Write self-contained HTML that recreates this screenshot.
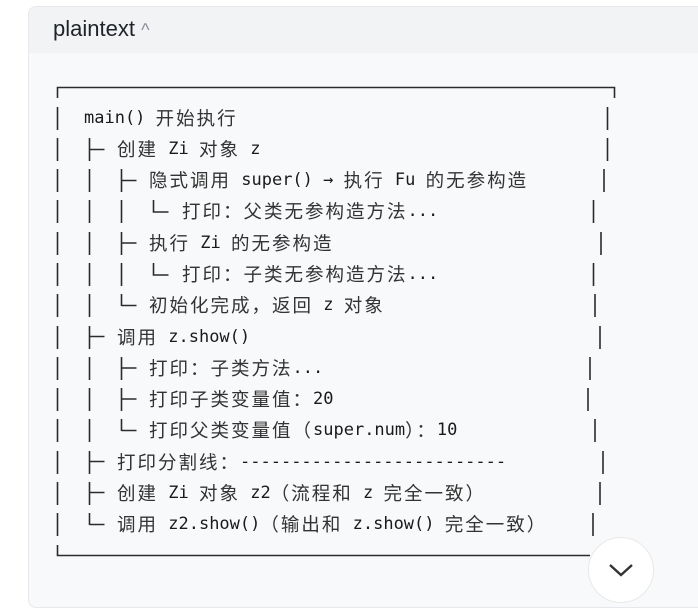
<!DOCTYPE html>
<html><head><meta charset="utf-8"><style>
body{margin:0;width:698px;height:587px;background:#fff;overflow:hidden;position:relative;font-family:"Liberation Sans","Noto Sans CJK SC",sans-serif;}
.card{position:absolute;left:28px;top:6px;width:700px;height:600px;border:1px solid #e6e8eb;border-radius:8px;background:#f8f9fa;overflow:hidden}
.hd{position:absolute;left:0;top:0;right:0;height:46px;background:#f2f3f5}
.ttl{position:absolute;left:24px;top:9px;font-size:22px;color:#1f2329;font-family:"Liberation Sans","Noto Sans CJK SC",sans-serif}
.t{position:absolute;font-family:"DejaVu Sans Mono","Noto Sans CJK SC",monospace;font-size:17px;line-height:24px;height:24px;color:#1a1a1a;white-space:pre}
.t i{font-style:normal;font-family:"Noto Sans CJK SC",sans-serif;font-size:18.5px;line-height:24px;letter-spacing:2px;color:#333;vertical-align:top}
svg{position:absolute;left:0;top:0}
.circ{position:absolute;left:588px;top:537px;width:64px;height:64px;border-radius:50%;background:#fff;border:1px solid #e8e8e8}
</style></head><body>
<div class="card"><div class="hd"></div><div class="ttl">plaintext <span style="color:#8a8f99;font-size:18px">^</span></div></div>
<svg width="698" height="587" stroke="#2b2b2b" stroke-width="1.6" fill="none">
<path d="M57.5 98V87.5H614.5V98"/>
<path d="M57.5 545V555.5H590"/>
<path d="M57.5 107v23M57.5 138v23M57.5 169v23M57.5 200v23M57.5 232v23M57.5 263v23M57.5 294v23M57.5 326v23M57.5 357v23M57.5 388v23M57.5 419v23M57.5 451v23M57.5 482v23M57.5 513v23"/>
<path d="M607.5 107v23M607.5 138v23M604 169v23M593.5 200v23M601 232v23M593.5 263v23M595 294v23M600 326v23M590 357v23M588 388v23M595 419v23M603 451v23M600 482v23M593 513v23"/>
<path d="M89.5 138v23M89.5 169v23M89.5 200v23M89.5 232v23M89.5 263v23M89.5 294v23M89.5 326v23M89.5 357v23M89.5 388v23M89.5 419v23M89.5 451v23M89.5 482v23M89.5 513v12"/>
<path d="M89.5 149.5h15M89.5 336.5h15M89.5 461.5h15M89.5 492.5h15M89.5 524.5h15"/>
<path d="M121.5 169v23M121.5 200v23M121.5 232v23M121.5 263v23M121.5 294v12M121.5 357v23M121.5 388v23M121.5 419v12"/>
<path d="M121.5 180.5h15M121.5 243h15M121.5 305.5h15M121.5 368h15M121.5 399h15M121.5 430.5h15"/>
<path d="M153.5 200v12h15M153.5 263v12h15"/>
</svg>
<div class="t" style="left:84px;top:106px">main() <i>开始执行</i></div>
<div class="t" style="left:117px;top:137px"><i>创建</i> Zi <i>对象</i> z</div>
<div class="t" style="left:149px;top:168px"><i>隐式调用</i> super() → <i>执行</i> Fu <i>的无参构造</i></div>
<div class="t" style="left:182px;top:199px"><i>打印：父类无参构造方法</i>...</div>
<div class="t" style="left:149px;top:231px"><i>执行</i> Zi <i>的无参构造</i></div>
<div class="t" style="left:182px;top:262px"><i>打印：子类无参构造方法</i>...</div>
<div class="t" style="left:149px;top:293px"><i>初始化完成，返回</i> z <i>对象</i></div>
<div class="t" style="left:117px;top:325px"><i>调用</i> z.show()</div>
<div class="t" style="left:149px;top:356px"><i>打印：子类方法</i>...</div>
<div class="t" style="left:149px;top:387px"><i>打印子类变量值：</i>20</div>
<div class="t" style="left:149px;top:418px"><i>打印父类变量值（</i>super.num<i>）：</i>10</div>
<div class="t" style="left:117px;top:450px"><i>打印分割线：</i>--------------------------</div>
<div class="t" style="left:117px;top:481px"><i>创建</i> Zi <i>对象</i> z2<i>（流程和</i> z <i>完全一致）</i></div>
<div class="t" style="left:117px;top:512px"><i>调用</i> z2.show()<i>（输出和</i> z.show() <i>完全一致）</i></div>
<div class="circ"></div>
<svg width="698" height="587" style="pointer-events:none"><path d="M610 565l11 10 11-10" stroke="#333" stroke-width="2.4" fill="none"/></svg>
</body></html>
